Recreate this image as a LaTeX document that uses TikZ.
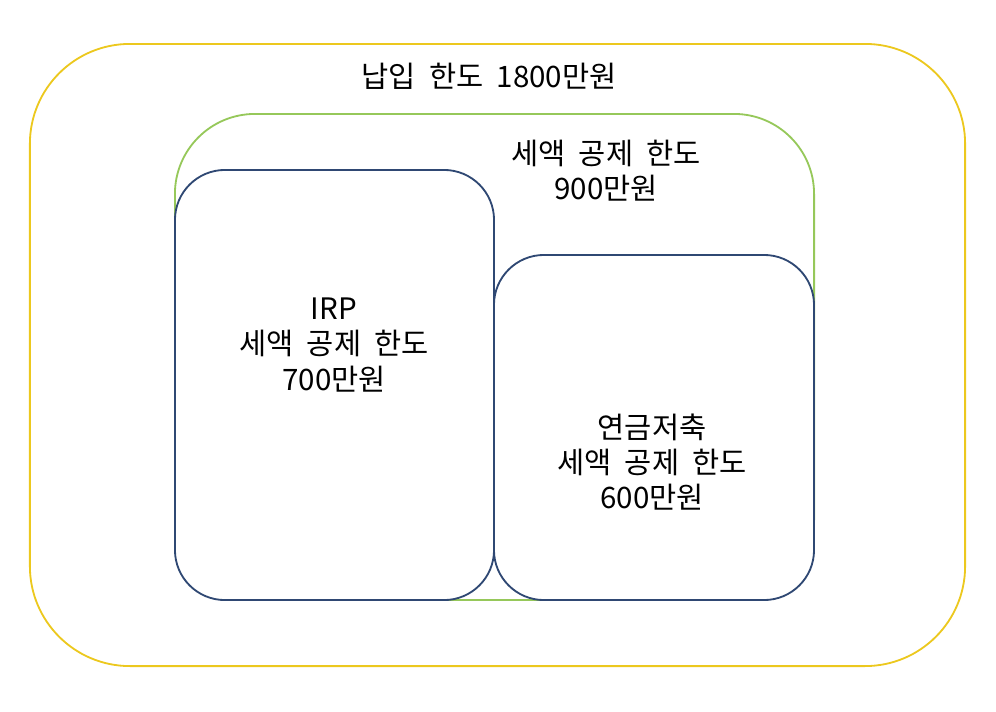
\documentclass[tikz,border=0pt]{standalone}
\usepackage{fontspec}
\setmainfont[WordSpace=2]{Noto Sans CJK KR}
\usetikzlibrary{positioning}
\definecolor{limitYellow}{RGB}{236,200,30}
\definecolor{taxGreen}{RGB}{150,200,90}
\definecolor{boxBlue}{RGB}{47,72,115}
\begin{document}
\begin{tikzpicture}[x=0.025cm, y=-0.025cm,
  font=\fontsize{21}{25}\selectfont,
  frame/.style={draw, line width=1.3pt, inner sep=0, rectangle},
  payframe/.style={frame, draw=limitYellow, rounded corners=2.5cm,
    minimum width=23.375cm, minimum height=15.55cm},
  taxframe/.style={frame, draw=taxGreen, rounded corners=2cm,
    minimum width=15.975cm, minimum height=12.15cm},
  subframe/.style={frame, draw=boxBlue, fill=white, rounded corners=1.25cm},
  caption/.style={align=center, inner sep=0}]
\useasboundingbox (0,0) rectangle (996,712);
% outer limit
\node[payframe] (pay) at (497.5,355) {};
\node[caption] (payText) at (489,76) {납입 한도 1800만원};
% deduction limit
\node[taxframe] (tax) at (494.5,357) {};
\node[caption] (taxText) at (606,171) {세액 공제 한도\\900만원};
% IRP and pension savings
\node[subframe, minimum width=7.975cm, minimum height=10.75cm] (irp) at (334.5,385) {};
\node[subframe, minimum width=8cm, minimum height=8.625cm] (pension) at (654,427.5) {};
\node[caption] (irpText) at (334,345) {IRP\\세액 공제 한도\\700만원};
\node[caption] (pensionText) at (652,462) {연금저축\\세액 공제 한도\\600만원};
\end{tikzpicture}
\end{document}
